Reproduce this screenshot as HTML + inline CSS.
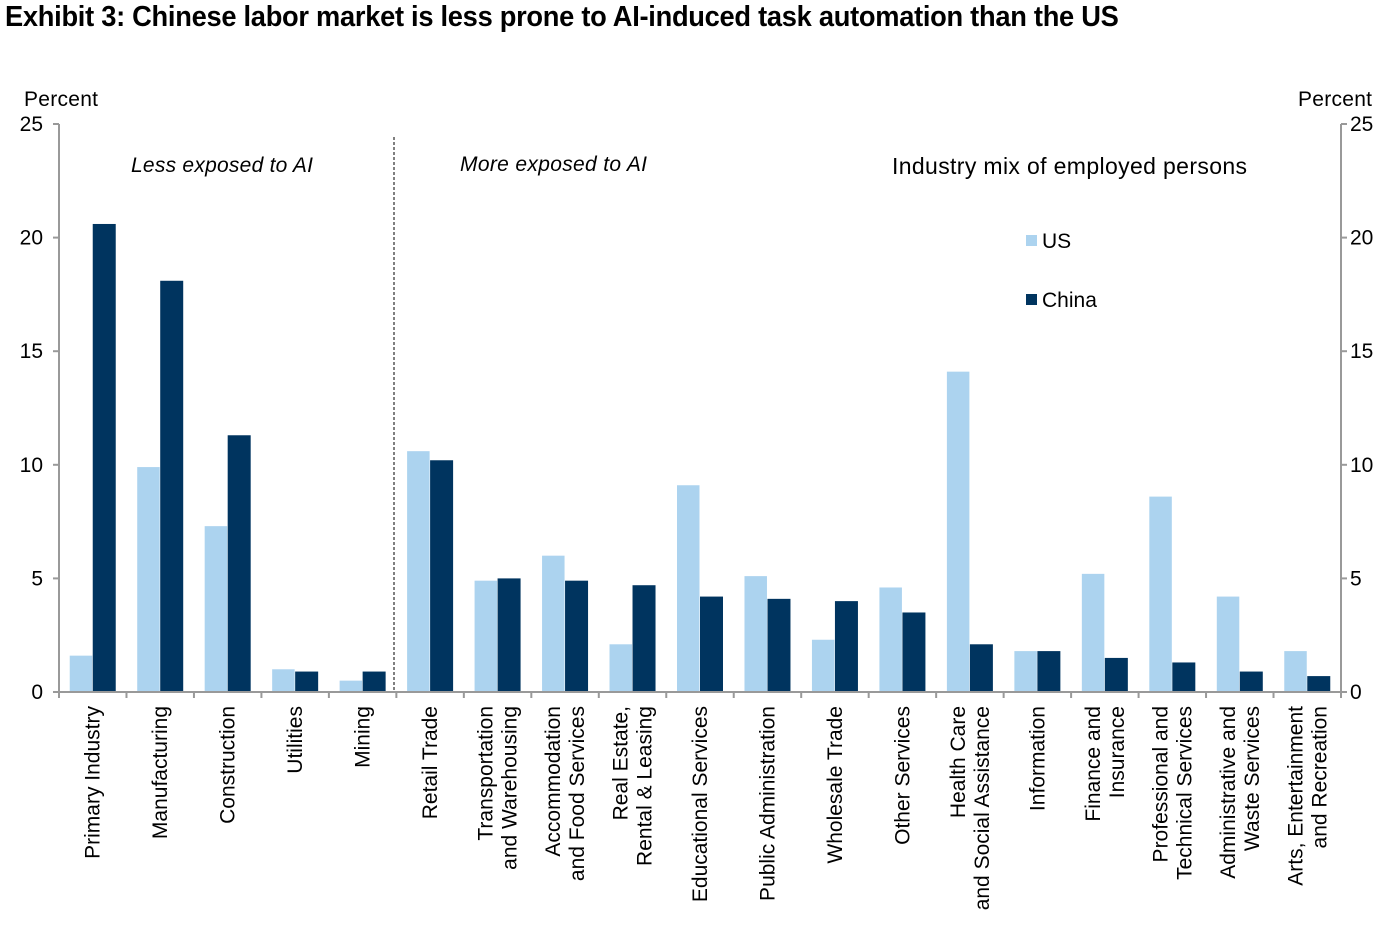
<!DOCTYPE html>
<html><head><meta charset="utf-8"><style>
body{margin:0;background:#fff;width:1394px;height:930px;overflow:hidden;font-family:"Liberation Sans",sans-serif}
h1{position:absolute;left:5px;top:1px;margin:0;font:bold 29px "Liberation Sans Narrow","Liberation Sans",sans-serif;letter-spacing:-0.3px;transform:scaleX(0.94);transform-origin:left top;white-space:nowrap}
</style></head><body>
<h1>Exhibit 3: Chinese labor market is less prone to AI-induced task automation than the US</h1>
<svg id="c" width="1394" height="930" style="position:absolute;left:0;top:0" font-family="Liberation Sans, sans-serif"></svg>
<script>
const categories=[["Primary Industry"],["Manufacturing"],["Construction"],["Utilities"],["Mining"],["Retail Trade"],["Transportation","and Warehousing"],["Accommodation","and Food Services"],["Real Estate,","Rental & Leasing"],["Educational Services"],["Public Administration"],["Wholesale Trade"],["Other Services"],["Health Care","and Social Assistance"],["Information"],["Finance and","Insurance"],["Professional and","Technical Services"],["Administrative and","Waste Services"],["Arts, Entertainment","and Recreation"]];
const usValues=[1.6,9.9,7.3,1.0,0.5,10.6,4.9,6.0,2.1,9.1,5.1,2.3,4.6,14.1,1.8,5.2,8.6,4.2,1.8];
const chinaValues=[20.6,18.1,11.3,0.9,0.9,10.2,5.0,4.9,4.7,4.2,4.1,4.0,3.5,2.1,1.8,1.5,1.3,0.9,0.7];
const yTicks=[0,5,10,15,20,25];
const svg=document.getElementById('c');const NS='http://www.w3.org/2000/svg';
const X0=59,X1=1341,Y0=692,Y1=124,MAX=25;
const bw=(X1-X0)/categories.length;
const y=v=>Y0-v/MAX*(Y0-Y1);
function el(t,a,txt){const e=document.createElementNS(NS,t);for(const k in a)e.setAttribute(k,a[k]);if(txt!=null)e.textContent=txt;svg.appendChild(e);return e;}
categories.forEach((c,i)=>{
 const cx=X0+bw*(i+0.5);
 let r=el('rect',{x:cx-23,y:y(usValues[i]),width:22.5,height:Y0-y(usValues[i]),fill:'#acd3ef'});
 
 r=el('rect',{x:cx,y:y(chinaValues[i]),width:23,height:Y0-y(chinaValues[i]),fill:'#00345f'});
 
 const n=c.length;
 c.forEach((line,j)=>{
  const lx=cx+7+(j-(n-1)/2)*24;
  const t=el('text',{x:0,y:0,transform:`translate(${lx},706) rotate(-90)`,'text-anchor':'end','font-size':21},line);
  
 });
});
for(let i=0;i<=categories.length;i++){const x=X0+bw*i;el('line',{x1:x,x2:x,y1:Y0,y2:Y0+6,stroke:'#999','stroke-width':2});}
el('line',{x1:X0,x2:X0,y1:Y1,y2:Y0,stroke:'#999','stroke-width':2});
el('line',{x1:X1,x2:X1,y1:Y1,y2:Y0,stroke:'#999','stroke-width':2});
el('line',{x1:X0-6,x2:X1+6,y1:Y0,y2:Y0,stroke:'#999','stroke-width':2});
yTicks.forEach(v=>{
 el('line',{x1:X0-6,x2:X0,y1:y(v),y2:y(v),stroke:'#999','stroke-width':2});
 el('line',{x1:X1,x2:X1+6,y1:y(v),y2:y(v),stroke:'#999','stroke-width':2});
 let t=el('text',{x:43,y:y(v)+7,'text-anchor':'end','font-size':21},v);
 t=el('text',{x:1350,y:y(v)+7,'font-size':21},v);
});
let t;
t=el('text',{x:24,y:106,'font-size':21,textLength:74},'Percent');
t=el('text',{x:1298,y:106,'font-size':21,textLength:74},'Percent');
t=el('line',{x1:394,x2:394,y1:137,y2:Y0,stroke:'#000','stroke-width':1,'stroke-dasharray':'3,2'});
t=el('text',{x:131,y:172,'font-size':21,'font-style':'italic',textLength:182},'Less exposed to AI');
t=el('text',{x:460,y:171,'font-size':21,'font-style':'italic',textLength:187},'More exposed to AI');
t=el('text',{x:892,y:174,'font-size':23,textLength:355},'Industry mix of employed persons');
t=el('rect',{x:1026,y:235,width:11,height:11,fill:'#acd3ef'});
t=el('text',{x:1042,y:248,'font-size':21},'US');
t=el('rect',{x:1026,y:294,width:11,height:11,fill:'#00345f'});
t=el('text',{x:1042,y:307,'font-size':21},'China');
</script>
</body></html>
